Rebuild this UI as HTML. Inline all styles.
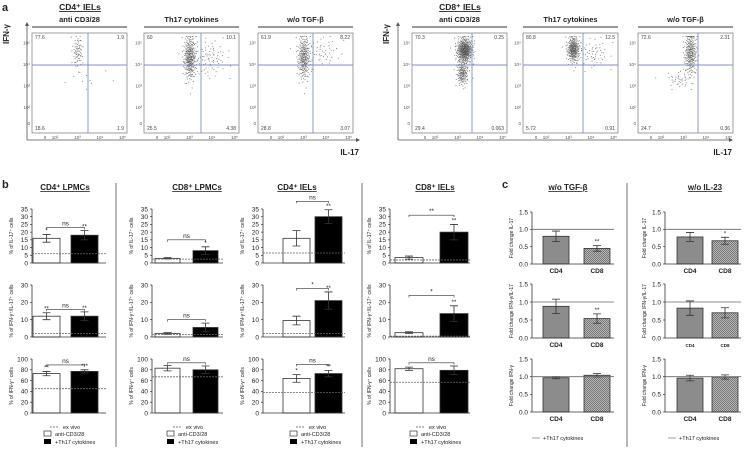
<!DOCTYPE html>
<html><head><meta charset="utf-8">
<style>
html,body{margin:0;padding:0;background:#fff;}
svg{display:block;font-family:"Liberation Sans",sans-serif;}
</style></head>
<body>
<svg id="fig" width="747" height="455" viewBox="0 0 747 455" xmlns="http://www.w3.org/2000/svg">
<defs>
<pattern id="hatch" width="2" height="2" patternUnits="userSpaceOnUse">
<rect width="2" height="2" fill="#b4b4b4"/><rect width="1" height="1" fill="#7a7a7a"/><rect x="1" y="1" width="1" height="1" fill="#7a7a7a"/>
</pattern>
</defs>
<g id="root"></g>
</svg>
<script>
// ---------- Panel a data (flow cytometry) ----------
const aTitles = ["anti CD3/28","Th17 cytokines","w/o TGF-\u03b2"];
const aQuadLeft = [["77.6","1.9","18.6","1.9"],["60","10.1","25.5","4.38"],["61.9","8.22","28.8","3.07"]];
const aQuadRight = [["70.3","0.25","29.4","0.063"],["80.8","12.5","5.72","0.91"],["72.6","2.31","24.7","0.36"]];
// clusters: [log IL-17 centre, log IFN centre, spread x, spread y, count]
const aClustersLeft = [
 [[3.0,4.6,0.12,0.35,70],[3.3,3.3,0.5,0.3,10]],
 [[3.0,4.3,0.14,0.5,300],[3.9,4.3,0.4,0.45,80]],
 [[3.0,4.3,0.14,0.5,250],[3.8,4.6,0.4,0.35,50]]
];
const aClustersRight = [
 [[3.3,4.65,0.18,0.3,420],[3.2,3.6,0.13,0.3,150]],
 [[3.2,4.7,0.14,0.3,260],[4.1,4.5,0.35,0.35,60]],
 [[3.3,4.5,0.14,0.5,250],[2.8,3.3,0.3,0.2,40]]
];
// ---------- Panel b data ----------
const bCols = ["CD4\u207a LPMCs","CD8\u207a LPMCs","CD4\u207a IELs","CD8\u207a IELs"];
const bIL17 = [[16,18],[3,8],[16,30],[3.5,20]];
const bIL17Err = [[2.5,3],[0.5,2.5],[5,4.5],[1,5]];
const bIL17Ex = [6,2.5,6.5,2];
const bIL17Sig = [["*","**"],["","*"],["","**"],["","**"]];
const bIL17Br = [["ns",23],["ns",15],["ns",40],["**",31]];
const bDP = [[12,12],[2,5.5],[9.5,21],[2.5,13.5]];
const bDPErr = [[2,2.5],[0.5,2.5],[2.5,5],[0.5,4.5]];
const bDPEx = [2,1.5,2,0.5];
const bDPSig = [["**","**"],["",""],["","**"],["","**"]];
const bDPBr = [["ns",16],["ns",10],["*",28],["*",24]];
const bIFN = [[73,77],[83,80],[64,73],[82,79]];
const bIFNErr = [[4,3],[5,7],[7,6],[3,8]];
const bIFNEx = [45,67,38,57];
const bIFNSig = [["**","***"],["",""],["*","**"],["",""]];
const bIFNBr = [["ns",89],["ns",93],["ns",90],["ns",93]];
const bTicks1 = [0,5,10,15,20,25,30,35];
const bTicks2 = [0,10,20,30];
const bTicks3 = [0,20,40,60,80,100];
// ---------- Panel c data ----------
const cCols = ["w/o TGF-\u03b2","w/o IL-23"];
const cCats = ["CD4","CD8"];
const cIL17 = [[0.8,0.45],[0.78,0.67]];
const cIL17Err = [[0.15,0.08],[0.13,0.1]];
const cIL17Sig = [["","**"],["","*"]];
const cDP = [[0.88,0.54],[0.83,0.7]];
const cDPErr = [[0.2,0.13],[0.2,0.14]];
const cDPSig = [["","**"],["",""]];
const cIFN = [[0.97,1.04],[0.96,0.99]];
const cIFNErr = [[0.03,0.05],[0.08,0.06]];
const cTicks = [0,0.5,1.0,1.5];

const NS="http://www.w3.org/2000/svg";
const root=document.getElementById('root');
function mk(tag,at,parent){const e=document.createElementNS(NS,tag);for(const k in at)e.setAttribute(k,at[k]);(parent||root).appendChild(e);return e;}
function txt(x,y,s,size,opt,parent){opt=opt||{};const e=mk('text',{x:x,y:y,'font-size':size,'text-anchor':opt.a||'start','font-weight':opt.b?'bold':'normal',fill:opt.fill||'#222'},parent);if(opt.rot)e.setAttribute('transform','rotate(-90 '+x+' '+y+')');if(opt.u)e.setAttribute('text-decoration','underline');e.textContent=s;return e;}

// ---------- Panel a ----------
function halton(i,b){let f=1,r=0;while(i>0){f/=b;r+=f*(i%b);i=Math.floor(i/b);}return r;}
function flowGroup(boxX,vX,axX,axEnd,quads,clusters,headerLabel,labelX,ifnX){
 const g=mk('g',{});
 
 
 const h=txt(labelX,10,headerLabel,8.5,{a:'middle',b:true,u:true},g);
 
 
 const ya=mk('line',{x1:axX,y1:140,x2:axX,y2:25,stroke:'#555','stroke-width':0.8},g);
 
 
 const xa=mk('line',{x1:axX,y1:140,x2:axEnd,y2:140,stroke:'#555','stroke-width':0.8},g);
 
 
 const ar=mk('path',{d:'M'+(axEnd+3)+' 140 l-4 -2 v4z M'+axX+' 22 l-2 4 h4z',fill:'#555'},g);
 
 
 const yl=txt(ifnX,44,'IFN-\u03b3',8,{rot:true,b:true},g);
 
 
 const xl=txt(axEnd+2,155,'IL-17',8,{a:'end',b:true},g);
 
 
 for(let p=0;p<3;p++){
  const bx=boxX[p],bw=95,by=33,bh=100;
  const sx=v=>bx+13+(v<=0?0:10+(v-2)*22.5);
  const sy=v=>by+90-(v<=0?0:16+(v-2)*21.5);
  const hb=mk('line',{x1:bx,y1:27,x2:bx+bw,y2:27,stroke:'#333','stroke-width':1},g);
  
  
  const t=txt(bx+bw/2,22,aTitles[p],7.5,{a:'middle',b:true},g);
  
  
  const box=mk('rect',{x:bx,y:by,width:bw,height:bh,fill:'none',stroke:'#777','stroke-width':0.7},g);
  
  
  let idx=1;
  clusters[p].forEach(c=>{
   for(let i=0;i<c[4];i++,idx++){
    const u1=Math.max(halton(idx,2),1e-3),u2=halton(idx,3);
    const r=Math.sqrt(-2*Math.log(u1));
    const lx=c[0]+c[2]*r*Math.cos(2*Math.PI*u2),ly=c[1]+c[3]*r*Math.sin(2*Math.PI*u2);
    const px=sx(lx),py=sy(Math.min(ly,5.3));
    if(px<bx+1||px>bx+bw-1||py<by+1||py>by+bh-1)continue;
    const d=mk('rect',{x:px,y:py,width:0.9,height:0.9,fill:'#444','fill-opacity':0.75},g);
    
    
   }
  });
  const hl=mk('line',{x1:bx,y1:65,x2:bx+bw,y2:65,stroke:'#7d8fc8','stroke-width':0.9},g);
  
  
  const vl=mk('line',{x1:vX[p],y1:by,x2:vX[p],y2:by+bh,stroke:'#7d8fc8','stroke-width':0.9},g);
  
  
  const q=quads[p];
  [[bx+3,by+6,q[0],'start'],[bx+bw-3,by+6,q[1],'end'],[bx+3,by+bh-3,q[2],'start'],[bx+bw-3,by+bh-3,q[3],'end']].forEach(a=>{
   const e=txt(a[0],a[1],a[2],5,{a:a[3],fill:'#444'},g);
   
   
  });
  [['10\u2075',5],['10\u2074',4],['10\u00b3',3],['10\u00b2',2],['0',0]].forEach(a=>{
   const e=txt(bx-2,sy(a[1])+2,a[0],4.5,{a:'end',fill:'#555'},g);
   
   
  });
  [['0',0],['10\u00b2',2],['10\u00b3',3],['10\u2074',4],['10\u2075',5]].forEach(a=>{
   const e=txt(sx(a[1]),bh+by+6,a[0],4.5,{a:'middle',fill:'#555'},g);
   
   
  });
 }
}
const aLab=txt(2,11,'a',11,{b:true});


flowGroup([32,144,258],[88,201,313],27,357,aQuadLeft,aClustersLeft,'CD4\u207a IELs',80,9);
flowGroup([412,523,638],[472,583,698],398,730,aQuadRight,aClustersRight,'CD8\u207a IELs',460,389);

// ---------- bar helper ----------
function barChart(o){
 const g=mk('g',{});
 
 
 const ys=v=>o.y0-(v/o.max)*(o.y0-o.yTop);
 const ya=mk('line',{x1:o.ax,y1:o.y0,x2:o.ax,y2:o.yTop,stroke:'#333','stroke-width':0.8},g);
 
 
 o.ticks.forEach(t=>{
  const tk=mk('line',{x1:o.ax-2,y1:ys(t),x2:o.ax,y2:ys(t),stroke:'#333','stroke-width':0.7},g);
  
  
  const l=txt(o.ax-4,ys(t)+2.3,o.fmt?o.fmt(t):String(t),6.5,{a:'end'},g);
  
  
 });
 const yl=txt(o.ax-19,(o.y0+o.yTop)/2,o.ylabel,5,{a:'middle',rot:true},g);
 
 
 for(let i=0;i<2;i++){
  const x=o.bx[i],v=o.vals[i],e=o.errs[i];
  const b=mk('rect',{x:x,y:ys(v),width:o.bw,height:o.y0-ys(v),fill:o.fills[i],stroke:'#333','stroke-width':0.8},g);
  
  
  const cx=x+o.bw/2;
  const eb=mk('path',{d:'M'+cx+' '+ys(v+e)+' V'+ys(Math.max(v-e,0))+' M'+(cx-4)+' '+ys(v+e)+' h8 M'+(cx-4)+' '+ys(Math.max(v-e,0))+' h8',stroke:o.errCol[i],'stroke-width':0.8,fill:'none'},g);
  
  
  if(o.sigs&&o.sigs[i]){
   const s=txt(cx,ys(v+e)-2,o.sigs[i],6,{a:'middle'},g);
   
   
  }
 }
 const xa=mk('line',{x1:o.ax,y1:o.y0,x2:o.axEnd,y2:o.y0,stroke:'#333','stroke-width':0.8},g);
 
 
 if(o.ref!=null){
  const r=mk('line',{x1:o.ax,y1:ys(o.ref),x2:o.axEnd,y2:ys(o.ref),stroke:'#666','stroke-width':0.8,'stroke-dasharray':o.dash||'none'},g);
  
  
 }
 if(o.br){
  const by=ys(o.br[1]);
  const c1=o.bx[0]+o.bw/2,c2=o.bx[1]+o.bw/2;
  const p=mk('path',{d:'M'+c1+' '+(by+2)+' V'+by+' H'+c2+' V'+(by+2),stroke:'#333','stroke-width':0.6,fill:'none'},g);
  
  
  const t=txt((c1+c2)/2,by-2,o.br[0],6.5,{a:'middle'},g);
  
  
 }
 if(o.cats){
  o.cats.forEach((c,i)=>{
   const t=txt(o.bx[i]+o.bw/2,o.y0+9,c,o.catSize||6.5,{a:'middle',b:true},g);
   
   
  });
 }
}

// ---------- Panel b ----------
const bLab=txt(2,188,'b',11,{b:true});


const bAx=[32,152,263,390],bB1=[33,155,283,395],bB2=[71,193,315,440],bW=[27,25,27,28],bEnd=[106,223,345,470],bTitleX=[65,197,297,435],bLegX=[44,167,290,410];
const bRows=[
 {vals:bIL17,errs:bIL17Err,ex:bIL17Ex,sig:bIL17Sig,br:bIL17Br,top:209,y0:263,max:35,ticks:bTicks1,lab:'% of IL-17\u207a cells'},
 {vals:bDP,errs:bDPErr,ex:bDPEx,sig:bDPSig,br:bDPBr,top:285,y0:337,max:30,ticks:bTicks2,lab:'% of IFN-\u03b3\u207a/IL-17\u207a cells'},
 {vals:bIFN,errs:bIFNErr,ex:bIFNEx,sig:bIFNSig,br:bIFNBr,top:359,y0:413,max:100,ticks:bTicks3,lab:'% of IFN-\u03b3\u207a cells'}
];
for(let c=0;c<4;c++){
 const t=txt(bTitleX[c],190,bCols[c],8,{a:'middle',b:true,u:true});
 
 
 bRows.forEach(r=>{
  barChart({name:'bar-chart',ax:bAx[c],axEnd:bEnd[c],y0:r.y0,yTop:r.top,max:r.max,ticks:r.ticks,ylabel:r.lab,
   bx:[bB1[c],bB2[c]],bw:bW[c],vals:r.vals[c],errs:r.errs[c],fills:['#fff','#000'],errCol:['#333','#333'],
   catNames:['anti-cd3-28','th17-cytokines'],sigs:r.sig[c],br:r.br[c],ref:r.ex[c],dash:'2,1'});
 });
 const lx=bLegX[c];
 const l1=mk('line',{x1:lx+6,y1:427,x2:lx+14,y2:427,stroke:'#555','stroke-width':0.8,'stroke-dasharray':'2,1'});
 
 
 const lt1=txt(lx+19,429,'ex vivo',5.5,{});
 
 
 const r1=mk('rect',{x:lx,y:431,width:7,height:5,fill:'#fff',stroke:'#333','stroke-width':0.7});
 
 
 const lt2=txt(lx+11,436,'anti-CD3/28',5.5,{});
 
 
 const r2=mk('rect',{x:lx,y:439,width:7,height:5,fill:'#000'});
 
 
 const lt3=txt(lx+11,444,'+Th17 cytokines',5.5,{});
 
 
}
[116,362,627].forEach(x=>{
 const s=mk('line',{x1:x,y1:183,x2:x,y2:447,stroke:'#888','stroke-width':1.2});
 
 
});

// ---------- Panel c ----------
const cLab=txt(502,188,'c',11,{b:true});


const cAx=[532,665],cB1=[543,677],cB2=[584,712],cEnd=[614,741],cTitleX=[568,705],cLegX=[532,668];
const cRows=[
 {vals:cIL17,errs:cIL17Err,sig:cIL17Sig,top:212,y0:264,lab:'Fold change IL-17',cs:[6.5,6.5]},
 {vals:cDP,errs:cDPErr,sig:cDPSig,top:284,y0:338,lab:'Fold change IFN-\u03b3/IL-17',cs:[6.5,4.5]},
 {vals:cIFN,errs:cIFNErr,sig:[["",""],["",""]],top:359,y0:412,lab:'Fold change IFN-\u03b3',cs:[6.5,6.5]}
];
for(let c=0;c<2;c++){
 const t=txt(cTitleX[c],190,cCols[c],8,{a:'middle',b:true,u:true});
 
 
 cRows.forEach(r=>{
  barChart({name:'fold-change-chart',ax:cAx[c],axEnd:cEnd[c],y0:r.y0,yTop:r.top,max:1.5,ticks:cTicks,fmt:v=>v.toFixed(1),ylabel:r.lab,
   bx:[cB1[c],cB2[c]],bw:26,vals:r.vals[c],errs:r.errs[c],fills:['#8c8c8c','url(#hatch)'],errCol:['#333','#333'],
   catNames:['cd4','cd8'],sigs:r.sig[c],ref:1.0,cats:cCats,catSize:r.cs[c]});
 });
 const l=mk('line',{x1:cLegX[c],y1:438,x2:cLegX[c]+8,y2:438,stroke:'#888','stroke-width':0.8});
 
 
 const lt=txt(cLegX[c]+11,440,'+Th17 cytokines',5.5,{});
 
 
}
</script>
</body></html>
